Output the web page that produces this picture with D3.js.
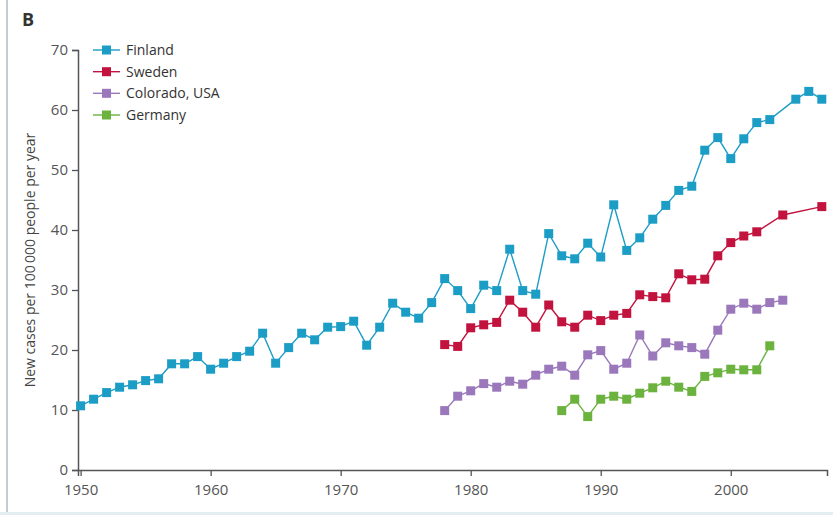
<!DOCTYPE html>
<html>
<head>
<meta charset="utf-8">
<script src="https://cdn.jsdelivr.net/npm/d3@7/dist/d3.min.js"></script>
<style>
  html, body { margin: 0; padding: 0; background: #fff; }
  svg { display: block; }
  text { font-family: "Open Sans", "Noto Sans", sans-serif; }
</style>
</head>
<body>
<svg id="chart" width="833" height="515"></svg>
<script>
// Type 1 diabetes incidence, new cases per 100 000 people per year
const finlandYears = [1950,1951,1952,1953,1954,1955,1956,1957,1958,1959,
  1960,1961,1962,1963,1964,1965,1966,1967,1968,1969,
  1970,1971,1972,1973,1974,1975,1976,1977,1978,1979,
  1980,1981,1982,1983,1984,1985,1986,1987,1988,1989,
  1990,1991,1992,1993,1994,1995,1996,1997,1998,1999,
  2000,2001,2002,2003,2005,2006,2007];
const finlandValues = [10.7,11.8,12.9,13.8,14.2,14.9,15.2,17.7,17.7,18.9,
  16.8,17.8,18.9,19.8,22.8,17.8,20.4,22.8,21.7,23.8,
  23.9,24.8,20.8,23.8,27.8,26.3,25.3,27.9,31.9,29.9,
  26.9,30.8,29.9,36.8,29.9,29.3,39.4,35.7,35.2,37.8,
  35.5,44.2,36.6,38.7,41.8,44.1,46.6,47.3,53.3,55.4,
  51.9,55.2,57.9,58.4,61.8,63.1,61.8];

const swedenYears = [1978,1979,1980,1981,1982,1983,1984,1985,1986,1987,
  1988,1989,1990,1991,1992,1993,1994,1995,1996,1997,
  1998,1999,2000,2001,2002,2004,2007];
const swedenValues = [20.9,20.6,23.7,24.2,24.6,28.3,26.3,23.8,27.5,24.7,
  23.8,25.8,24.9,25.8,26.1,29.2,28.9,28.7,32.7,31.7,
  31.8,35.7,37.9,39.0,39.7,42.5,43.9];

const coloradoYears = [1978,1979,1980,1981,1982,1983,1984,1985,1986,1987,
  1988,1989,1990,1991,1992,1993,1994,1995,1996,1997,
  1998,1999,2000,2001,2002,2003,2004];
const coloradoValues = [9.9,12.3,13.2,14.4,13.8,14.8,14.3,15.8,16.8,17.3,
  15.8,19.2,19.9,16.8,17.8,22.5,19.0,21.2,20.7,20.4,
  19.3,23.3,26.8,27.8,26.8,27.9,28.3];

const germanyYears = [1987,1988,1989,1990,1991,1992,1993,1994,1995,1996,
  1997,1998,1999,2000,2001,2002,2003];
const germanyValues = [9.9,11.8,8.9,11.8,12.3,11.8,12.8,13.7,14.8,13.8,
  13.1,15.6,16.2,16.8,16.7,16.7,20.7];

const seriesNames = ["Finland", "Sweden", "Colorado, USA", "Germany"];
const seriesColors = ["#1b9dc6", "#c2133f", "#9a78bb", "#6bb33e"];

const xTicks = [1950, 1960, 1970, 1980, 1990, 2000];
const yTicks = [0, 10, 20, 30, 40, 50, 60, 70];
const yTitle = "New cases per 100\u2009000 people per year";
const panelLabel = "B";

const series = [
  { years: finlandYears, values: finlandValues },
  { years: swedenYears, values: swedenValues },
  { years: coloradoYears, values: coloradoValues },
  { years: germanyYears, values: germanyValues }
].map((s, i) => ({
  name: seriesNames[i],
  color: seriesColors[i],
  points: s.years.map((yr, j) => ({ year: yr, value: s.values[j] }))
}));

const svg = d3.select("#chart");
const W = 833, H = 515;

// panel frame: thin rule on the left and a pale band at the bottom
svg.append("rect").attr("x", 0).attr("y", 0).attr("width", W).attr("height", H).attr("fill", "#fff");
svg.append("line").attr("x1", 7).attr("x2", 7).attr("y1", 0).attr("y2", H)
  .attr("stroke", "#c3ccd0").attr("stroke-width", 2);
svg.append("rect").attr("x", 0).attr("y", 512).attr("width", W).attr("height", 3).attr("fill", "#e2eef0");

const x = d3.scaleLinear().domain([1949.8, 2007.4]).range([78, 827]);
const y = d3.scaleLinear().domain([0, 70]).range([470, 50]);

const axisColor = "#555";

const gx = svg.append("g").attr("transform", `translate(0,${y(0)})`)
  .call(d3.axisBottom(x).tickValues(xTicks).tickFormat(d3.format("d"))
    .tickSizeOuter(0).tickSize(6).tickPadding(8));
const gy = svg.append("g").attr("transform", `translate(${x.range()[0]},0)`)
  .call(d3.axisLeft(y).tickValues(yTicks).tickSizeOuter(0).tickSize(6).tickPadding(4));

[gx, gy].forEach(g => {
  g.select(".domain").attr("stroke", axisColor).attr("stroke-width", 1.5);
  g.selectAll(".tick line").attr("stroke", axisColor).attr("stroke-width", 1.3);
  g.selectAll(".tick text").attr("fill", "#555").attr("font-size", 15)
    .attr("font-family", "'Open Sans', 'Noto Sans', sans-serif");
});

// y-axis title
svg.append("text")
  .attr("transform", `translate(35,${(y(0) + y(70)) / 2}) rotate(-90)`)
  .attr("text-anchor", "middle")
  .attr("font-size", 14)
  .attr("fill", "#444")
  .text(yTitle);

// panel letter
svg.append("text").attr("x", 22).attr("y", 26)
  .attr("font-size", 18).attr("font-weight", "bold").attr("fill", "#333")
  .text(panelLabel);

const line = d3.line().x(d => x(d.year)).y(d => y(d.value));
const M = 9;

const g = svg.append("g");
series.forEach(s => {
  g.append("path").datum(s.points)
    .attr("fill", "none").attr("stroke", s.color).attr("stroke-width", 1.4)
    .attr("d", line);
  g.selectAll(null).data(s.points).enter().append("rect")
    .attr("x", d => x(d.year) - M / 2)
    .attr("y", d => y(d.value) - M / 2)
    .attr("width", M).attr("height", M)
    .attr("fill", s.color);
});

// legend
const legend = svg.append("g");
const legendRows = [50, 71.7, 93.3, 115];
series.forEach((s, i) => {
  const ly = legendRows[i];
  legend.append("line").attr("x1", 93).attr("x2", 120).attr("y1", ly).attr("y2", ly)
    .attr("stroke", s.color).attr("stroke-width", 1.4);
  legend.append("rect").attr("x", 106.5 - M / 2).attr("y", ly - M / 2)
    .attr("width", M).attr("height", M).attr("fill", s.color);
  legend.append("text").attr("x", 126).attr("y", ly).attr("dy", "0.35em")
    .attr("font-size", 14).attr("fill", "#333").text(s.name);
});
</script>
</body>
</html>
